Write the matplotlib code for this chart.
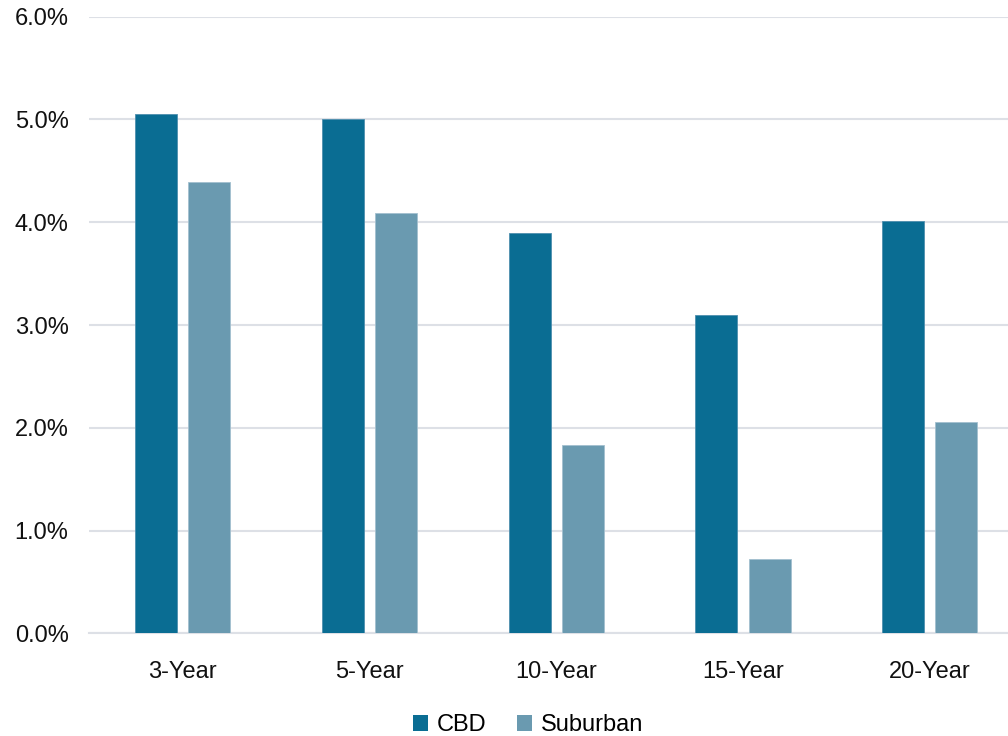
import matplotlib
matplotlib.use("Agg")
import matplotlib.pyplot as plt
import numpy as np
from matplotlib.ticker import FuncFormatter, MultipleLocator
from matplotlib.patches import Patch

plt.rcParams['font.family'] = ['Liberation Sans', 'DejaVu Sans']

categories = ["3-Year", "5-Year", "10-Year", "15-Year", "20-Year"]
cbd = [5.05, 5.00, 3.90, 3.10, 4.01]
suburban = [4.39, 4.09, 1.83, 0.72, 2.06]
series_names = ["CBD", "Suburban"]
colors = ["#0a6d93", "#6a9ab0"]

W, H = 1008, 736
fig = plt.figure(figsize=(W / 100, H / 100), dpi=100)
left_px, right_px, top_px, bottom_px = 89.4, 1008, 16.7, 633.3
ax = fig.add_axes([left_px / W, (H - bottom_px) / H,
                   (right_px - left_px) / W, (bottom_px - top_px) / H])

x = np.arange(len(categories))
bw = 0.225
off = 0.143
ax.bar(x - off, cbd, width=bw, color=colors[0], edgecolor="#4f8fae", linewidth=0.6, zorder=3)
ax.bar(x + off, suburban, width=bw, color=colors[1], edgecolor="#a3c0cf", linewidth=0.6, zorder=3)

ax.set_ylim(0, 6)
ax.set_xlim(-0.5, (right_px - left_px) / 186.75 - 0.5)
ax.yaxis.set_major_locator(MultipleLocator(1))
ax.yaxis.set_major_formatter(FuncFormatter(lambda v, p: f"{v:.1f}%"))
ax.grid(axis="y", color="#dde0e6", linewidth=1.5, zorder=0)
ax.set_axisbelow(True)
for s in ["top", "right", "left"]:
    ax.spines[s].set_visible(False)
ax.spines["bottom"].set_color("#dde0e6")
ax.spines["bottom"].set_linewidth(1.5)

ax.set_xticks(x)
ax.set_xticklabels(categories)
ax.tick_params(axis="both", length=0, labelsize=17, colors="#111111")
ax.tick_params(axis="y", pad=15)
ax.tick_params(axis="x", pad=20)

handles = [Patch(facecolor=c, edgecolor="none") for c in colors]
fig.legend(handles, series_names, loc="center", bbox_to_anchor=(528 / W, 1 - 725 / H),
           ncol=2, frameon=False, fontsize=17, handlelength=0.65, handleheight=0.65,
           handletextpad=0.35, columnspacing=1.3)

fig.savefig("out.png", dpi=100)
